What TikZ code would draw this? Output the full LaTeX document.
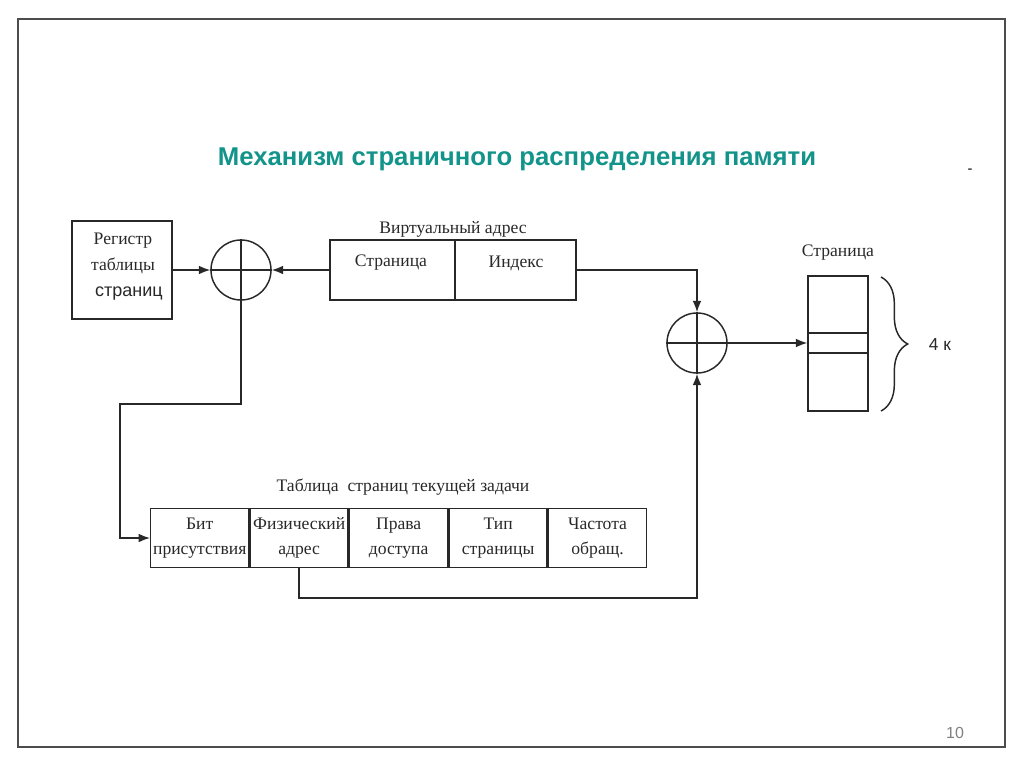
\documentclass[tikz,border=0pt]{standalone}
\usepackage{fontspec}
\setmainfont{Liberation Serif}
\newfontfamily\arial{Liberation Sans}
\usetikzlibrary{arrows.meta,decorations.pathreplacing}
\definecolor{teal1}{RGB}{19,148,138}
\definecolor{linec}{RGB}{40,40,40}
\tikzset{
  box/.style={draw=linec,line width=1.1pt,rectangle,inner sep=0pt},
  sumc/.style={draw=linec,line width=1.1pt,circle,inner sep=0pt,minimum size=45pt},
  wire/.style={draw=linec,line width=1.1pt},
  arr/.style={wire,-{Latex[length=8.5pt,width=6.5pt]}},
  lbl/.style={font=\fontsize{13.2}{15}\selectfont,text=linec,inner sep=0pt},
  cell/.style={box,minimum width=73.5pt,minimum height=44pt,align=center,
    font=\fontsize{13.2}{18.5}\selectfont,text=linec,anchor=west}
}
\begin{document}
\begin{tikzpicture}[x=0.75pt,y=-0.75pt]
\useasboundingbox (0,0) rectangle (1024,767);
\draw[draw=black!70,line width=1.5pt] (18,19) rectangle (1005,747);
\node[font=\arial\bfseries\fontsize{19.3}{21}\selectfont,text=teal1] (title) at (517,159) {Механизм страничного распределения памяти};
\node[font=\arial\fontsize{11}{12}\selectfont] (dash) at (970,171) {-};
\node[font=\arial\fontsize{12}{14}\selectfont,text=black!50] (pnum) at (955,733) {10};

% register
\node[box,minimum width=75pt,minimum height=73.5pt] (reg) at (122,270) {};
\node[lbl] (r1) at (123,241) {Регистр};
\node[lbl] (r2) at (123,266) {таблицы};
\node[lbl,font=\arial\fontsize{13.5}{14}\selectfont] (r3) at (129,294) {страниц};

% adders
\node[sumc] (c1) at (241,270) {};
\draw[wire] (c1.north) -- (c1.south) (c1.west) -- (c1.east);
\node[sumc] (c2) at (697,343) {};
\draw[wire] (c2.north) -- (c2.south) (c2.west) -- (c2.east);

% virtual address
\node[box,minimum width=93.75pt,minimum height=45pt] (vp) at (392.5,270) {};
\node[box,minimum width=90.75pt,minimum height=45pt] (vi) at (515.5,270) {};
\node[lbl] (vlab) at (453,229) {Виртуальный адрес};
\node[lbl] (vpt) at (391,263) {Страница};
\node[lbl] (vit) at (516,263) {Индекс};

% page
\node[box,minimum width=45pt,minimum height=101.25pt] (pg) at (838,343.5) {};
\node[box,minimum width=45pt,minimum height=15pt] (slot) at (838,343) {};
\node[lbl] (pglab) at (838,253) {Страница};
\draw[wire,decorate,decoration={brace,amplitude=20pt,raise=0pt}] (881,277) -- (881,411);
\node[font=\arial\fontsize{13}{14}\selectfont,text=linec] (k4) at (940,345) {4 к};

% table
\node[lbl] (tlab) at (403,487) {Таблица\ \ страниц текущей задачи};
\node[cell] (t1) at (150,538) {Бит\\присутствия};
\node[cell] (t2) at (t1.east) {Физический\\адрес};
\node[cell] (t3) at (t2.east) {Права\\доступа};
\node[cell] (t4) at (t3.east) {Тип\\страницы};
\node[cell] (t5) at (t4.east) {Частота\\обращ.};

% connectors
\coordinate (k1) at (120,404);
\coordinate (k2) at (697,598);
\draw[arr] (reg.east) -- (c1.west);
\draw[arr] (vp.west) -- (c1.east);
\draw[arr] (vi.east) -| (c2.north);
\draw[arr] (c2.east) -- (slot.west);
\draw[arr] (c1.south) |- (k1) |- (t1.west);
\draw[arr] (t2.south) |- (k2) -- (c2.south);
\end{tikzpicture}
\end{document}
